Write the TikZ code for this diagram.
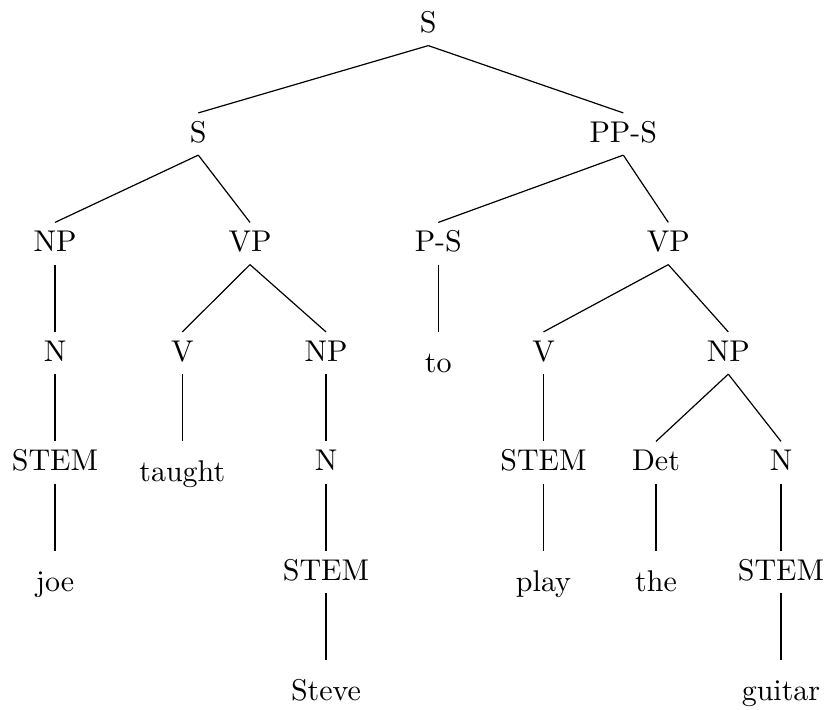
\documentclass[tikz,border=0pt]{standalone}
\begin{document}
\begin{tikzpicture}[x=0.33333pt,y=-0.33333pt,
  cat/.style={inner sep=0pt, text height=9.5pt, text depth=4.17pt, anchor=base},
  word/.style={inner sep=0pt, text height=13.17pt, text depth=0pt, anchor=base},
  branch/.style={line width=0.4pt}]
\useasboundingbox (0,0) rectangle (826,709);

% level 0 and 1
\node[cat] (root) at (428.3,32.5) {S};
\node[cat] (s)    at (198.3,142) {S};
\node[cat] (pps)  at (623.3,142) {PP-S};

% level 2
\node[cat] (np1) at (55,251.5)    {NP};
\node[cat] (vp1) at (250,251.5)   {VP};
\node[cat] (ps)  at (438.3,251.5) {P-S};
\node[cat] (vp2) at (668.3,251.5) {VP};

% level 3
\node[cat]  (n1)  at (55,361)    {N};
\node[cat]  (v1)  at (182.3,361) {V};
\node[cat]  (np2) at (326,361)   {NP};
\node[word] (to)  at (438.3,372) {to};
\node[cat]  (v2)  at (543.5,361) {V};
\node[cat]  (np3) at (728.3,361) {NP};

% level 4
\node[cat]  (stem1)  at (55,470.5)    {STEM};
\node[word] (taught) at (182.3,481.5) {taught};
\node[cat]  (n2)     at (326,470.5)   {N};
\node[cat]  (stem2)  at (543.5,470.5) {STEM};
\node[cat]  (det)    at (656,470.5)   {Det};
\node[cat]  (n3)     at (781,470.5)   {N};

% level 5
\node[word] (joe)   at (55,591)    {joe};
\node[cat]  (stem3) at (326,580)   {STEM};
\node[word] (play)  at (543.5,591) {play};
\node[word] (the)   at (656,591)   {the};
\node[cat]  (stem4) at (781,580)   {STEM};

% level 6
\node[word] (steve)  at (326,700.5) {Steve};
\node[word] (guitar) at (781,700.5) {guitar};

% branches
\foreach \p/\c in {root/s, root/pps, s/np1, s/vp1, pps/ps, pps/vp2,
    np1/n1, vp1/v1, vp1/np2, ps/to, vp2/v2, vp2/np3,
    n1/stem1, v1/taught, np2/n2, v2/stem2, np3/det, np3/n3,
    stem1/joe, n2/stem3, stem2/play, det/the, n3/stem4,
    stem3/steve, stem4/guitar}
  \draw[branch] (\p.south) -- (\c.north);
\end{tikzpicture}
\end{document}
